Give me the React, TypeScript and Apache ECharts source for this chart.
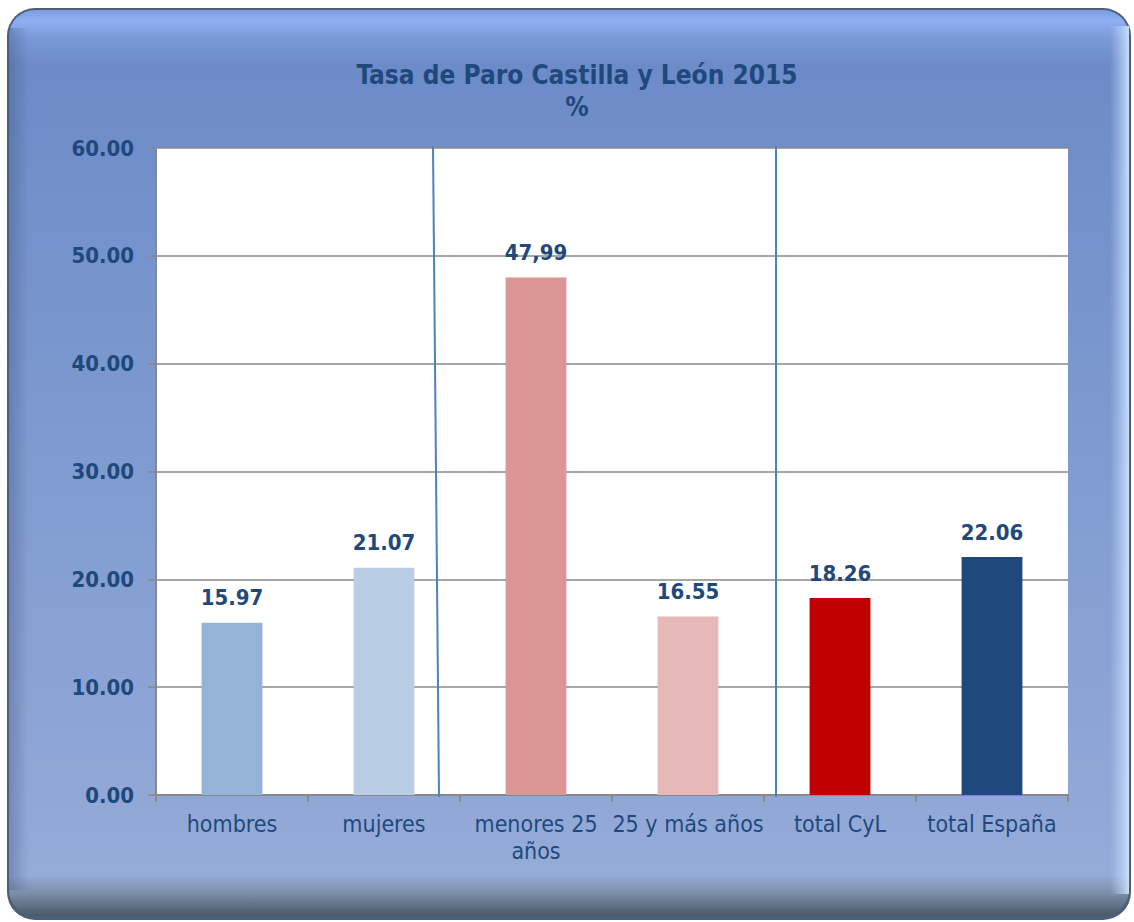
import React, { useEffect, useRef } from "react";
import * as echarts from "echarts";

const categories = ["hombres", "mujeres", "menores 25 años", "25 y más años", "total CyL", "total España"];
const tickLabels = ["hombres", "mujeres", "menores 25\naños", "25 y más años", "total CyL", "total España"];
const values = [15.97, 21.07, 47.99, 16.55, 18.26, 22.06];
const valueLabels = ["15.97", "21.07", "47,99", "16.55", "18.26", "22.06"];
const barColors = ["#95B3D7", "#B9CDE5", "#D99694", "#E6B9B8", "#C00000", "#1F497D"];
const yTicks = { min: 0, max: 60, interval: 10 };

const TEXT = "#1F497D";
const FONT = "DejaVu Sans Condensed";

export default function App() {
  const ref = useRef<HTMLDivElement>(null);
  useEffect(() => {
    if (!ref.current) return;
    const chart = echarts.init(ref.current, undefined, { renderer: "svg" });
    const option = {
      animation: false,
      backgroundColor: "#ffffff",
      title: {
        text: "Tasa de Paro Castilla y León 2015\n%",
        left: 572,
        top: 54,
        textAlign: "center",
        textStyle: {
          color: TEXT,
          fontFamily: FONT,
          fontWeight: "bold",
          fontSize: 26,
          lineHeight: 32,
        },
      },
      graphic: [
        {
          type: "rect",
          z: -10,
          silent: true,
          shape: { x: 7, y: 8, width: 1124, height: 912, r: 28 },
          style: { fill: "#4C5F78" },
        },
        {
          type: "rect",
          z: -9,
          silent: true,
          shape: { x: 9, y: 10, width: 1120, height: 906, r: 26 },
          style: {
            fill: new echarts.graphic.LinearGradient(0, 0, 0, 1, [
              { offset: 0, color: "#7E9DDE" },
              { offset: 0.012, color: "#8FAEF4" },
              { offset: 0.03, color: "#7B9AD8" },
              { offset: 0.06, color: "#6C8BC8" },
              { offset: 0.5, color: "#7F9BD0" },
              { offset: 0.955, color: "#95ABD8" },
              { offset: 0.975, color: "#7A8EA8" },
              { offset: 1, color: "#4A5966" },
            ]),
          },
        },
        {
          type: "rect",
          z: -8,
          silent: true,
          shape: { x: 9, y: 28, width: 20, height: 862 },
          style: {
            fill: new echarts.graphic.LinearGradient(0, 0, 1, 0, [
              { offset: 0, color: "rgba(60,80,120,0.35)" },
              { offset: 1, color: "rgba(60,80,120,0)" },
            ]),
          },
        },
        {
          type: "rect",
          z: -8,
          silent: true,
          shape: { x: 1110, y: 26, width: 19, height: 868 },
          style: {
            fill: new echarts.graphic.LinearGradient(0, 0, 1, 0, [
              { offset: 0, color: "rgba(200,220,255,0)" },
              { offset: 0.7, color: "rgba(200,225,255,0.6)" },
              { offset: 1, color: "rgba(220,235,255,0.85)" },
            ]),
          },
        },
        {
          type: "line",
          z: 10,
          silent: true,
          shape: { x1: 433, y1: 146, x2: 439, y2: 797 },
          style: { stroke: "#4F81BD", lineWidth: 2 },
        },
        {
          type: "line",
          z: 10,
          silent: true,
          shape: { x1: 776, y1: 146, x2: 776, y2: 797 },
          style: { stroke: "#4F81BD", lineWidth: 2 },
        },
      ],
      grid: {
        left: 156,
        right: 66,
        top: 148,
        bottom: 127,
        show: true,
        backgroundColor: "#ffffff",
        borderWidth: 0,
      },
      xAxis: {
        type: "category",
        data: categories,
        axisLine: { lineStyle: { color: "#898989", width: 2 } },
        axisTick: { show: true, length: 7, lineStyle: { color: "#898989", width: 2 } },
        axisLabel: {
          color: TEXT,
          fontFamily: FONT,
          fontSize: 23,
          lineHeight: 27,
          margin: 15,
          interval: 0,
          formatter: (_v: string, i: number) => tickLabels[i],
        },
        splitLine: { show: false },
      },
      yAxis: {
        type: "value",
        min: yTicks.min,
        max: yTicks.max,
        interval: yTicks.interval,
        axisLine: { show: true, lineStyle: { color: "#898989", width: 2 } },
        axisTick: { show: true, length: 8, lineStyle: { color: "#898989", width: 1.5 } },
        axisLabel: {
          color: TEXT,
          fontFamily: FONT,
          fontWeight: "bold",
          fontSize: 22,
          margin: 22,
          formatter: (v: number) => v.toFixed(2),
        },
        splitLine: { show: true, lineStyle: { color: "#898989", width: 1.5 } },
      },
      series: [
        {
          type: "bar",
          barWidth: "40%",
          data: values.map((v, i) => ({ value: v, itemStyle: { color: barColors[i] } })),
          label: {
            show: true,
            position: "top",
            distance: 14,
            color: TEXT,
            fontFamily: FONT,
            fontWeight: "bold",
            fontSize: 22,
            formatter: (p: any) => valueLabels[p.dataIndex],
          },
        },
      ],
    };
    chart.setOption(option as any);
    return () => chart.dispose();
  }, []);
  return (
    <div
      ref={ref}
      style={{ position: "absolute", left: 0, top: 0, width: 1134, height: 922 }}
    />
  );
}
